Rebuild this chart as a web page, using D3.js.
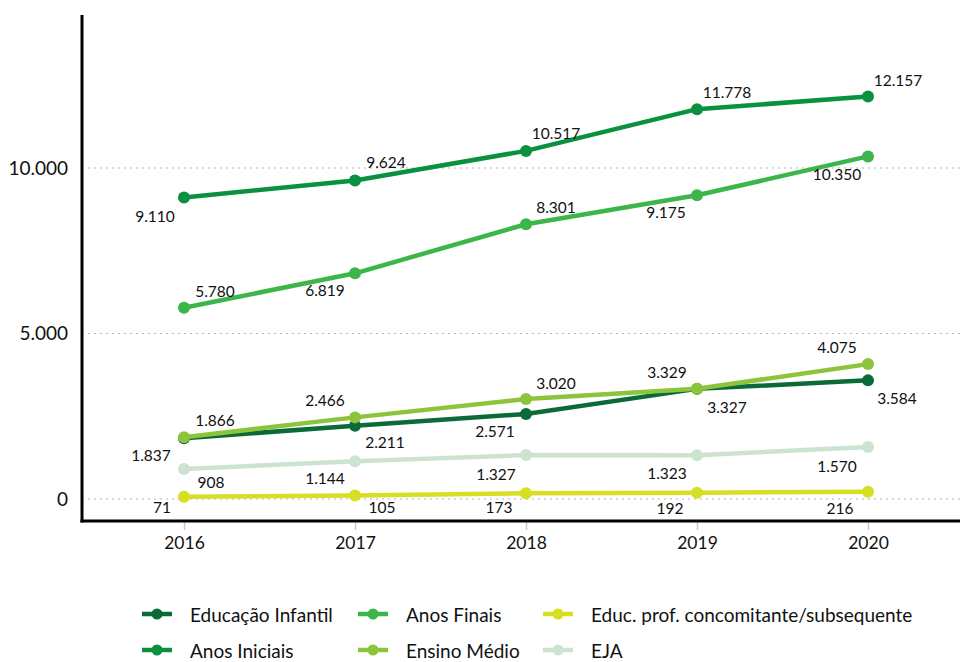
<!DOCTYPE html>
<html><head><meta charset="utf-8">
<script src="https://cdn.jsdelivr.net/npm/d3@7/dist/d3.min.js"></script>
<style>body{margin:0;background:#fff}svg{display:block;font-family:Lato,"Open Sans",sans-serif}</style>
</head><body><svg id="c" width="960" height="662"></svg>
<script>
const years = ["2016","2017","2018","2019","2020"];
const seriesNames = ["Educação Infantil","Anos Iniciais","Anos Finais","Ensino Médio","Educ. prof. concomitante/subsequente","EJA"];
const educacaoInfantil = [1837, 2211, 2571, 3327, 3584];
const anosIniciais = [9110, 9624, 10517, 11778, 12157];
const anosFinais = [5780, 6819, 8301, 9175, 10350];
const ensinoMedio = [1866, 2466, 3020, 3329, 4075];
const educProf = [71, 105, 173, 192, 216];
const eja = [908, 1144, 1327, 1323, 1570];
const yTicks = [0, 5000, 10000];

const colors = ["#0b6b38","#0a9140","#3cb54a","#8cc43c","#d6df22","#cce3d0"];
// data-label offsets [dx, dy] in px from each point (style only)
const labelOffsets = [
  [[-33,17],[30,16],[-31,17],[30,18],[29,18]],
  [[-29,19],[31,-18],[30,-18],[30,-17],[30,-17]],
  [[31,-17],[-30,17],[30,-17],[-31,17],[-31,18]],
  [[31,-17],[-30,-17],[30,-16],[-30,-17],[-31,-17]],
  [[-22,10],[27,11],[-27,14],[-27,15],[-28,16]],
  [[27,13],[-30,17],[-30,19],[-30,18],[-31,19]]
];
const values = [educacaoInfantil, anosIniciais, anosFinais, ensinoMedio, educProf, eja];

const svg = d3.select("#c");
const x = d3.scalePoint().domain(years).range([184, 868]);
const y = d3.scaleLinear().domain([0, 10000]).range([499, 168]);
const yTop = y.invert(15), yBot = y.invert(521);
const fmt = d3.formatLocale({decimal:",", thousands:".", grouping:[3], currency:["",""]}).format(",d");

// gridlines
svg.append("g").selectAll("line").data(yTicks).join("line")
  .attr("x1", 82).attr("x2", 960).attr("y1", d=>y(d)).attr("y2", d=>y(d))
  .attr("stroke", "#b5b5b5").attr("stroke-width", 1).attr("stroke-dasharray", "2,4");

// y axis
const yAxis = d3.axisLeft(y).tickValues(yTicks).tickSize(0).tickPadding(14).tickFormat(fmt);
const gy = svg.append("g").attr("transform", "translate(82,0)").call(yAxis);
gy.select(".domain").remove();
gy.selectAll("text").attr("font-size", 19).attr("fill", "#111").attr("font-family", "Lato,sans-serif");
svg.append("line").attr("x1", 82).attr("x2", 82).attr("y1", y(yTop)).attr("y2", y(yBot)+1.5)
  .attr("stroke", "#000").attr("stroke-width", 3);

// x axis
const xAxis = d3.axisBottom(x).tickSize(9).tickPadding(7);
const gx = svg.append("g").attr("transform", `translate(0,${y(yBot)})`).call(xAxis);
gx.select(".domain").remove();
gx.selectAll("line").attr("stroke", "#c8c8c8").attr("stroke-width", 1.5);
gx.selectAll("text").attr("font-size", 17.5).attr("fill", "#111").attr("font-family", "Lato,sans-serif");
svg.append("line").attr("x1", 80.5).attr("x2", 960).attr("y1", y(yBot)).attr("y2", y(yBot))
  .attr("stroke", "#000").attr("stroke-width", 3);

const line = d3.line().x((d,i)=>x(years[i])).y(d=>y(d));
values.forEach((vals, s) => {
  const g = svg.append("g");
  g.append("path").attr("d", line(vals)).attr("fill", "none")
    .attr("stroke", colors[s]).attr("stroke-width", 4.5).attr("stroke-linejoin", "round");
  g.selectAll("circle").data(vals).join("circle")
    .attr("cx", (d,i)=>x(years[i])).attr("cy", d=>y(d)).attr("r", 6).attr("fill", colors[s]);
});
// labels
values.forEach((vals, s) => {
  svg.append("g").selectAll("text").data(vals).join("text")
    .attr("x", (d,i)=>x(years[i]) + labelOffsets[s][i][0])
    .attr("y", (d,i)=>y(d) + labelOffsets[s][i][1])
    .attr("text-anchor", "middle").attr("dominant-baseline", "central")
    .attr("font-size", 15.5).attr("fill", "#111").text(d=>fmt(d));
});

// legend
const legX = [142, 358, 543], legY = [614, 650];
seriesNames.forEach((name, s) => {
  const col = Math.floor(s/2), row = s%2;
  const g = svg.append("g").attr("transform", `translate(${legX[col]},${legY[row]})`);
  g.append("line").attr("x1", 0).attr("x2", 30).attr("y1", 0).attr("y2", 0)
    .attr("stroke", colors[s]).attr("stroke-width", 4.5);
  g.append("circle").attr("cx", 15).attr("cy", 0).attr("r", 5.5).attr("fill", colors[s]);
  g.append("text").attr("x", 48).attr("y", 0).attr("dominant-baseline", "central")
    .attr("font-size", 19).attr("fill", "#111").text(name);
});
</script></body></html>
